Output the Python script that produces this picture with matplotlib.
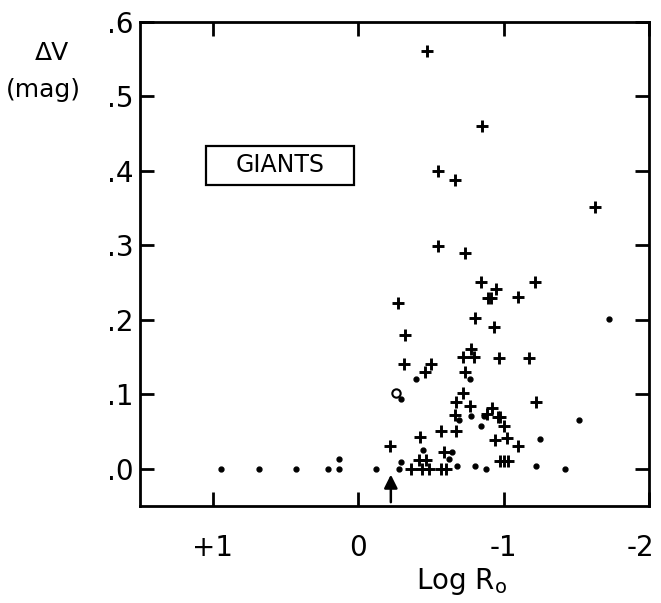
import matplotlib
matplotlib.use("Agg")
import matplotlib.pyplot as plt
import matplotlib.transforms as mtransforms
from matplotlib.patches import Rectangle

# Log Ro and Delta V
plus_x = [-0.473, -0.85, -0.546, -0.668, -1.625, -0.551, -0.737, -0.845, -1.218,
          -0.946, -0.891, -0.914, -1.096, -0.275, -0.804, -0.932, -0.323, -0.772,
          -0.718, -0.799, -0.970, -1.174, -0.316, -0.502, -0.461, -0.737, -0.718,
          -0.675, -0.767, -0.921, -1.224, -0.668, -0.884, -0.960, -0.977, -1.0,
          -0.571, -0.673, -0.427, -0.217, -0.938, -1.024, -1.097, -0.587, -0.415,
          -0.466, -0.975, -1.001, -1.030, -0.364, -0.438, -0.484, -0.571, -0.604]
plus_y = [0.561, 0.460, 0.400, 0.387, 0.351, 0.299, 0.290, 0.251, 0.251,
          0.241, 0.229, 0.229, 0.230, 0.222, 0.202, 0.190, 0.180, 0.161,
          0.150, 0.150, 0.149, 0.149, 0.140, 0.140, 0.130, 0.130, 0.101,
          0.090, 0.084, 0.082, 0.090, 0.072, 0.074, 0.069, 0.069, 0.057,
          0.051, 0.051, 0.042, 0.031, 0.039, 0.041, 0.031, 0.022, 0.011,
          0.011, 0.010, 0.010, 0.010, 0.0, 0.0, 0.0, 0.0, 0.0]

dot_x = [0.942, 0.685, 0.427, 0.207, 0.13, 0.13, -0.124, -0.277, -0.295, -0.295,
         -0.394, -0.77, -1.724, -0.443, -0.645, -0.625, -0.677, -0.804, -0.877,
         -1.225, -1.425, -0.69, -0.775, -0.862, -0.846, -1.52, -1.247]
dot_y = [0.0, 0.0, 0.0, 0.0, 0.0, 0.0125, 0.0, 0.0, 0.0085, 0.093,
         0.121, 0.121, 0.201, 0.0255, 0.023, 0.013, 0.003, 0.003, 0.0,
         0.003, 0.0, 0.066, 0.071, 0.071, 0.057, 0.066, 0.040]

circle_x = [-0.257]
circle_y = [0.102]

arrow_x = -0.224

xticks = [1, 0, -1, -2]
xtick_labels = ["+1", "0", "-1", "-2"]
yticks = [0.0, 0.1, 0.2, 0.3, 0.4, 0.5, 0.6]
ytick_labels = [".0", ".1", ".2", ".3", ".4", ".5", ".6"]

plt.rcParams["font.family"] = ["DejaVu Sans"]

fig = plt.figure(figsize=(6.61, 6.03), dpi=100)
ax = fig.add_axes([0.212, 0.161, 0.770, 0.803])

ax.plot(plus_x, plus_y, "+", color="black", ms=9, mew=2.1, ls="none")
ax.plot(dot_x, dot_y, "o", color="black", ms=3.5, ls="none")
ax.plot(circle_x, circle_y, "o", mfc="white", mec="black", ms=6, mew=1.5, ls="none")
ax.annotate("", xy=(arrow_x, -0.008), xytext=(arrow_x, -0.045),
            arrowprops=dict(arrowstyle="-|>", color="black", lw=1.8,
                            mutation_scale=20, shrinkA=0, shrinkB=0))

ax.set_xlim(1.5, -2)
ax.set_ylim(-0.05, 0.6)
ax.set_xticks(xticks)
ax.set_xticklabels(xtick_labels)
ax.set_yticks(yticks)
ax.set_yticklabels(ytick_labels)
ax.tick_params(axis="both", direction="in", length=10, width=2, labelsize=20,
               top=True, right=True)
ax.tick_params(axis="x", pad=20)
ax.tick_params(axis="y", pad=5)
for sp in ax.spines.values():
    sp.set_linewidth(2)

# the "-2" label sits at the right edge; nudge it in a little
last = ax.get_xticklabels()[-1]
last.set_transform(last.get_transform() +
                   mtransforms.ScaledTranslation(-6 / 72, 0, fig.dpi_scale_trans))

# label box
ax.add_patch(Rectangle((1.048, 0.381), 0.026 - 1.048, 0.4334 - 0.381,
                       fc="white", ec="black", lw=1.6, zorder=3))
ax.text(0.537, 0.407, "GIANTS", fontsize=17, ha="center", va="center", zorder=4)

fig.text(0.078, 0.912, "\u0394V", fontsize=18, ha="center", va="center")
fig.text(0.066, 0.851, "(mag)", fontsize=18, ha="center", va="center")
fig.text(0.698, 0.036, "Log R$_\\mathregular{o}$", fontsize=20, ha="center", va="center")

fig.savefig("out.png", dpi=100)
